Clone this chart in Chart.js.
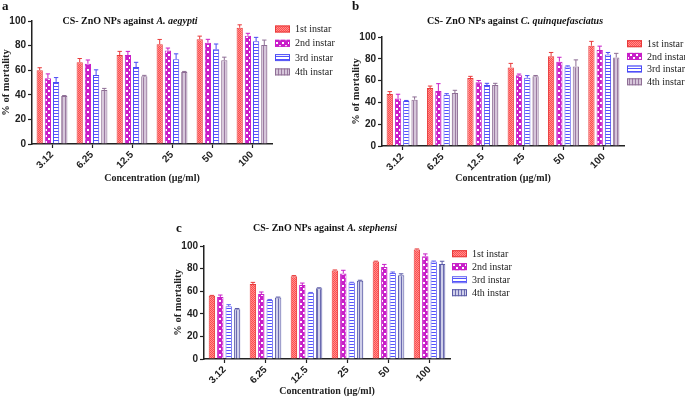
<!DOCTYPE html>
<html lang="en">
<head>
<meta charset="UTF-8">
<title>CS- ZnO NPs larvicidal activity</title>
<style>
  body { margin: 0; background: #fff; width: 685px; height: 397px; position: relative; overflow: hidden; }
  canvas { position: absolute; }
  #chartA { left: 0; top: 0; }
  #chartB { left: 342px; top: 0; }
  #chartC { left: 150px; top: 195px; }
</style>
</head>
<body>
<canvas id="chartA" width="342" height="190"></canvas>
<canvas id="chartB" width="343" height="190"></canvas>
<canvas id="chartC" width="380" height="202"></canvas>

<script src="https://cdn.jsdelivr.net/npm/chart.js"></script>
<script>
var concentrations = ['3.12', '6.25', '12.5', '25', '50', '100'];
var instars = ['1st instar', '2nd instar', '3rd instar', '4th instar'];
var yTicks = [0, 20, 40, 60, 80, 100];

// a - A. aegypti (% mortality, upper error)
var aegypti1 = [60, 66.5, 72.3, 81, 85.2, 94.5];
var aegypti2 = [53.5, 65.3, 72.3, 76, 82.4, 88];
var aegypti3 = [50.5, 56, 62.6, 69, 77, 83.5];
var aegypti4 = [39, 44, 55, 58.5, 68, 80.5];
var aegyptiErr1 = [2, 3, 3, 4, 2.5, 2.4];
var aegyptiErr2 = [3.5, 3, 3, 2, 2.7, 2];
var aegyptiErr3 = [3.5, 4.3, 3.8, 4.3, 4.3, 3.2];
var aegyptiErr4 = [0.4, 1.2, 0.8, 0.5, 2.6, 4];

// b - C. quinquefasciatus
var quinque1 = [47.7, 53.2, 62.4, 72, 82.3, 92];
var quinque2 = [43.5, 50.5, 58.6, 65, 77.4, 88];
var quinque3 = [41.3, 47, 56, 62.6, 73, 84];
var quinque4 = [42.5, 48.6, 56, 64, 73, 81.3];
var quinqueErr1 = [2.2, 1.8, 1.5, 3.8, 3.5, 4];
var quinqueErr2 = [4, 6.7, 1.5, 1, 4, 3.6];
var quinqueErr3 = [0.5, 1, 1.5, 2, 0.5, 1.8];
var quinqueErr4 = [2.5, 2.5, 1.5, 0.7, 6, 3.7];

// c - A. stephensi
var stephensi1 = [56, 66.3, 73.3, 78.3, 86.2, 96.8];
var stephensi2 = [54.8, 57.5, 65.4, 75.7, 81.5, 91];
var stephensi3 = [46.6, 52.2, 58.6, 67.7, 76, 86.2];
var stephensi4 = [44, 54.5, 62.7, 69.2, 74.2, 84];
var stephensiErr1 = [0.3, 1.5, 0.5, 0.5, 0.4, 0.6];
var stephensiErr2 = [1.8, 1.8, 1.8, 2.8, 2.2, 2];
var stephensiErr3 = [1.5, 0.5, 0.3, 0.2, 1, 0.5];
var stephensiErr4 = [0.7, 0.3, 0.3, 0.5, 1.2, 2.5];

var SERIF = '"Liberation Serif", "Times New Roman", serif';
var SANS = '"Liberation Sans", Arial, sans-serif';

// small tiles for the Prism-like bar fills
function tile(w, h, draw) {
    var c = document.createElement('canvas');
    c.width = w; c.height = h;
    var g = c.getContext('2d');
    draw(g);
    return g.createPattern(c, 'repeat');
}
var redFill = tile(2, 2, function(g) {
    g.fillStyle = '#ff4d4d'; g.fillRect(0, 0, 2, 2);
    g.fillStyle = '#ff8f8f'; g.fillRect(0, 0, 1, 1); g.fillRect(1, 1, 1, 1);
});
var magentaFill = tile(6, 6, function(g) {
    g.fillStyle = '#c81ec8'; g.fillRect(0, 0, 6, 6);
    g.fillStyle = '#ffffff'; g.fillRect(0, 0, 2, 2); g.fillRect(3, 3, 2, 2);
});
var blueFill = tile(3, 3, function(g) {
    g.fillStyle = '#ffffff'; g.fillRect(0, 0, 3, 3);
    g.fillStyle = '#5252ff'; g.fillRect(0, 2, 3, 1);
});
var mauveFill = tile(3, 3, function(g) {
    g.fillStyle = '#d6c6da'; g.fillRect(0, 0, 3, 3);
    g.fillStyle = '#9b7aa1'; g.fillRect(2, 0, 1, 3);
});
var navyFill = tile(3, 3, function(g) {
    g.fillStyle = '#d0d0ea'; g.fillRect(0, 0, 3, 3);
    g.fillStyle = '#6a6ab0'; g.fillRect(2, 0, 1, 3);
});

var errorBars = {
    id: 'errorBars',
    afterDatasetsDraw: function(chart) {
        var ctx = chart.ctx, yScale = chart.scales.y;
        chart.data.datasets.forEach(function(ds, i) {
            chart.getDatasetMeta(i).data.forEach(function(bar, j) {
                var top = yScale.getPixelForValue(ds.data[j] + ds.errors[j]);
                var half = bar.width * 0.35;
                ctx.save();
                ctx.strokeStyle = ds.borderColor;
                ctx.lineWidth = 1;
                ctx.beginPath();
                ctx.moveTo(bar.x, bar.y);
                ctx.lineTo(bar.x, top);
                ctx.moveTo(bar.x - half, top);
                ctx.lineTo(bar.x + half, top);
                ctx.stroke();
                ctx.restore();
            });
        });
    }
};

// panel letter, mixed-style title and the legend on the right
var panelDeco = {
    id: 'panelDeco',
    afterDraw: function(chart, args, opts) {
        var ctx = chart.ctx;
        ctx.save();
        ctx.fillStyle = '#111';
        ctx.textBaseline = 'alphabetic';
        ctx.textAlign = 'left';
        ctx.font = 'bold 13px ' + SERIF;
        ctx.fillText(opts.letter, opts.letterX, opts.letterY);

        var total = 0;
        opts.title.forEach(function(p) {
            ctx.font = (p.italic ? 'italic ' : '') + 'bold 10px ' + SERIF;
            total += ctx.measureText(p.text).width;
        });
        var x = opts.titleX - total / 2;
        ctx.textBaseline = 'middle';
        opts.title.forEach(function(p) {
            ctx.font = (p.italic ? 'italic ' : '') + 'bold 10px ' + SERIF;
            ctx.fillText(p.text, x, opts.titleY);
            x += ctx.measureText(p.text).width;
        });

        ctx.font = '10px ' + SERIF;
        chart.data.datasets.forEach(function(ds, i) {
            var y = opts.legendY + i * opts.legendStep;
            ctx.fillStyle = ds.backgroundColor;
            ctx.fillRect(opts.legendX, y - 3.5, 15, 7);
            ctx.strokeStyle = ds.borderColor;
            ctx.lineWidth = 1;
            ctx.strokeRect(opts.legendX + 0.5, y - 3, 14, 6);
            ctx.fillStyle = '#222';
            ctx.fillText(ds.label, opts.legendX + 20, y + 0.5);
        });
        ctx.restore();
    }
};

function makeDatasets(values, errors, colors) {
    return instars.map(function(name, i) {
        return {
            label: name,
            data: values[i],
            errors: errors[i],
            backgroundColor: colors[i][0],
            borderColor: colors[i][1],
            borderWidth: 1,
            categoryPercentage: 0.82,
            barPercentage: 0.76
        };
    });
}

function makeChart(id, datasets, padding, xHeight, deco) {
    return new Chart(document.getElementById(id), {
        type: 'bar',
        data: { labels: concentrations, datasets: datasets },
        options: {
            responsive: false,
            animation: false,
            layout: { padding: padding },
            plugins: {
                legend: { display: false },
                title: { display: false },
                tooltip: { enabled: false },
                panelDeco: deco
            },
            scales: {
                x: {
                    offset: true,
                    afterFit: function(s) { s.height = xHeight; },
                    border: { color: '#222', width: 1.5 },
                    grid: { offset: false, drawOnChartArea: false, tickLength: 4, color: '#222', tickWidth: 1.2 },
                    ticks: {
                        minRotation: 45, maxRotation: 45, padding: 1,
                        color: '#222', font: { family: SANS, size: 10, weight: 'bold' }
                    },
                    title: {
                        display: true, text: 'Concentration (µg/ml)', color: '#222',
                        padding: 0, font: { family: SERIF, size: 10, weight: 'bold' }
                    }
                },
                y: {
                    min: 0, max: 100,
                    afterFit: function(s) { s.width = 32; },
                    afterBuildTicks: function(s) { s.ticks = yTicks.map(function(v) { return { value: v }; }); },
                    border: { color: '#222', width: 1.5 },
                    grid: { drawOnChartArea: false, tickLength: 4, color: '#222', tickWidth: 1.2 },
                    ticks: { padding: 2, color: '#222', font: { family: SANS, size: 10, weight: 'bold' } },
                    title: {
                        display: true, text: '% of mortality', color: '#222',
                        padding: 0, font: { family: SERIF, size: 10.5, weight: 'bold' }
                    }
                }
            }
        },
        plugins: [errorBars, panelDeco]
    });
}

var colorsAB = [[redFill, '#e83a3a'], [magentaFill, '#c81ec8'], [blueFill, '#4a4af5'], [mauveFill, '#8e6e95']];
var colorsC = [[redFill, '#e83a3a'], [magentaFill, '#c81ec8'], [blueFill, '#6262f2'], [navyFill, '#5a5aa6']];

makeChart('chartA',
    makeDatasets([aegypti1, aegypti2, aegypti3, aegypti4],
                 [aegyptiErr1, aegyptiErr2, aegyptiErr3, aegyptiErr4], colorsAB),
    { left: 0, top: 21, right: 70, bottom: 6 }, 40,
    { letter: 'a', letterX: 2, letterY: 10,
      title: [{ text: 'CS- ZnO NPs against ' }, { text: 'A. aegypti', italic: true }],
      titleX: 130, titleY: 21,
      legendX: 275, legendY: 29, legendStep: 14.3 });

makeChart('chartB',
    makeDatasets([quinque1, quinque2, quinque3, quinque4],
                 [quinqueErr1, quinqueErr2, quinqueErr3, quinqueErr4], colorsAB),
    { left: 8, top: 37, right: 61, bottom: 6 }, 38,
    { letter: 'b', letterX: 10, letterY: 10,
      title: [{ text: 'CS- ZnO NPs against ' }, { text: 'C. quinquefasciatus', italic: true }],
      titleX: 173, titleY: 21,
      legendX: 285, legendY: 43.7, legendStep: 12.7 });

makeChart('chartC',
    makeDatasets([stephensi1, stephensi2, stephensi3, stephensi4],
                 [stephensiErr1, stephensiErr2, stephensiErr3, stephensiErr4], colorsC),
    { left: 22, top: 51, right: 80, bottom: 0 }, 38,
    { letter: 'c', letterX: 26, letterY: 37,
      title: [{ text: 'CS- ZnO NPs against ' }, { text: 'A. stephensi', italic: true }],
      titleX: 175, titleY: 33,
      legendX: 302, legendY: 58.7, legendStep: 13 });
</script>
</body>
</html>
